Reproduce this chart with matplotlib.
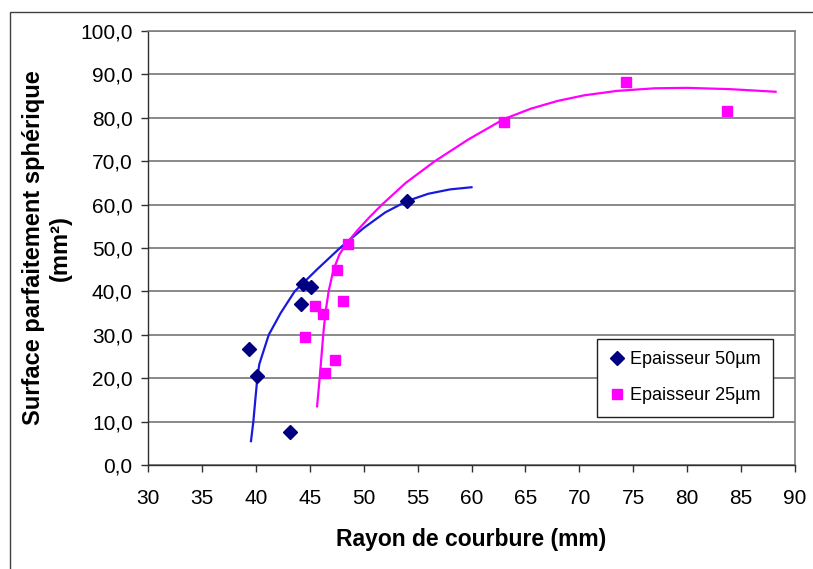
import matplotlib.pyplot as plt
from matplotlib.patches import Rectangle
from matplotlib.ticker import FuncFormatter, MultipleLocator

plt.rcParams['font.family'] = ['Liberation Sans', 'DejaVu Sans']

# measured points
rayon_50 = [39.37, 40.14, 43.17, 44.16, 44.41, 45.09, 54.0]
surface_50 = [26.8, 20.4, 7.7, 37.0, 41.8, 41.0, 60.8]

rayon_25 = [44.56, 45.49, 46.26, 46.42, 47.35, 47.5, 48.12, 48.58, 63.02, 74.34, 83.68]
surface_25 = [29.5, 36.7, 34.9, 21.3, 24.1, 44.9, 37.7, 51.0, 79.1, 88.3, 81.6]

# trend curves
trend_x_50 = [39.55, 39.77, 39.95, 40.14, 40.32, 40.55, 41.2, 42.3, 43.6, 45.65, 47.8,
              50.0, 52.0, 54.0, 56.0, 58.0, 60.0]
trend_y_50 = [5.5, 10, 15, 20, 23.2, 25, 30, 35, 40, 45, 50,
              54.6, 58.2, 60.8, 62.5, 63.5, 64.0]

trend_x_25 = [45.68, 45.92, 46.25, 46.45, 46.75, 47.2, 47.75, 48.4, 49.4, 50.5, 51.7,
              53.9, 56.6, 59.7, 63.0, 65.5, 68.0, 70.5, 73.5, 77.0, 80.0, 84.0, 88.2]
trend_y_25 = [13.5, 20, 30, 35, 40, 45, 48.5, 51, 54, 57, 60,
              65, 70, 75, 79.7, 82.1, 83.9, 85.2, 86.2, 86.8, 86.9, 86.6, 86.0]

fig = plt.figure(figsize=(8.13, 5.69), dpi=100)
ax = fig.add_axes([148 / 813, 104 / 569, 647 / 813, 434 / 569])

# outer chart frame
fig.patches.append(Rectangle((10 / 813, -0.1), 2, 1.1 - 12 / 569,
                             transform=fig.transFigure, fill=False,
                             edgecolor='#404040', linewidth=1))

ax.plot(trend_x_50, trend_y_50, color='#1a1adc', linewidth=1.6, zorder=2)
ax.plot(trend_x_25, trend_y_25, color='#ff00ff', linewidth=1.6, zorder=2)

ax.plot(rayon_50, surface_50, linestyle='none', marker='D', markersize=7,
        color='#000080', label='Epaisseur 50µm', zorder=3)
ax.plot(rayon_25, surface_25, linestyle='none', marker='s', markersize=7.5,
        color='#ff00ff', label='Epaisseur 25µm', zorder=3)

ax.set_xlim(30, 90)
ax.set_ylim(0, 100)
ax.xaxis.set_major_locator(MultipleLocator(5))
ax.yaxis.set_major_locator(MultipleLocator(10))
ax.yaxis.set_major_formatter(FuncFormatter(lambda v, p: f'{v:.1f}'.replace('.', ',')))

ax.grid(axis='y', color='#6a6a6a', linewidth=1.1)
ax.set_axisbelow(True)

for side in ['top', 'right']:
    ax.spines[side].set_color('#808080')
    ax.spines[side].set_linewidth(1.2)
for side in ['left', 'bottom']:
    ax.spines[side].set_color('#303030')
    ax.spines[side].set_linewidth(1.0)

ax.tick_params(axis='both', direction='out', length=5, width=1, color='#303030',
               labelsize=15)
ax.tick_params(axis='x', pad=12)
ax.tick_params(axis='y', pad=6)

ax.set_xlabel('Rayon de courbure (mm)', fontsize=16.5, fontweight='bold', labelpad=15)
ax.set_ylabel('Surface parfaitement sphérique\n(mm²)', fontsize=17, fontweight='bold',
              labelpad=6, multialignment='center')

leg = ax.legend(loc='lower left', bbox_to_anchor=(0.694, 0.111), fontsize=13,
                frameon=True, fancybox=False, framealpha=1, edgecolor='#202020',
                handlelength=0.8, handletextpad=0.3, labelspacing=1.05,
                borderpad=0.7, borderaxespad=0)
leg.get_frame().set_linewidth(1.0)

fig.savefig('out.png', dpi=100, facecolor='white')
